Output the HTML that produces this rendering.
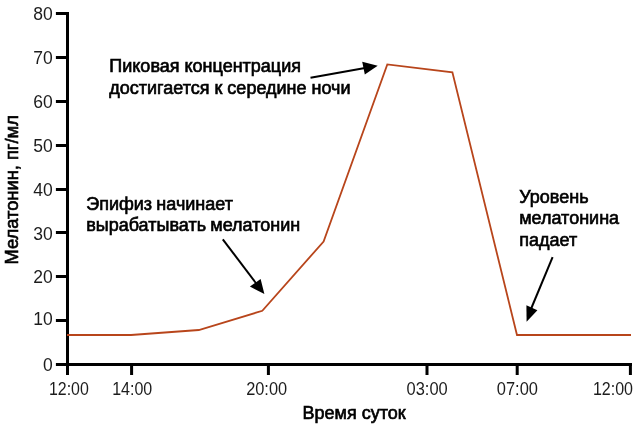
<!DOCTYPE html>
<html><head><meta charset="utf-8">
<style>
html,body{margin:0;padding:0;background:#fff;}
svg{display:block;}
text{font-family:"Liberation Sans",sans-serif;fill:#000;}
.ax{font-size:17.5px;fill:#1c1c1c;}
.an{font-size:18px;stroke:#000;stroke-width:0.65px;}
</style></head><body>
<svg width="638" height="434" viewBox="0 0 638 434">
<rect width="638" height="434" fill="#fff"/>
<g stroke="#000" stroke-width="3" fill="none">
<path d="M67.5 12 V375.1"/>
<path d="M55.9 364.5 H632"/>
<path d="M55.9 13.5H67M55.9 57.5H67M55.9 101.5H67M55.9 145.5H67M55.9 189.5H67M55.9 232.5H67M55.9 276.5H67M55.9 320.5H67"/>
<path d="M131.6 364V375.1M268.4 364V375.1M427 364V375.1M517.2 364V375.1M630.4 364V375.1"/>
</g>
<polyline fill="none" stroke="#b8451b" stroke-width="1.8" stroke-linejoin="miter" points="67,335 131,335 198.8,330 262.3,310.8 323.6,241.5 387.3,64.4 452.4,72.4 517,335 631,335"/>

<text class="ax" text-anchor="end" transform="translate(52.8,20.2)">80</text>
<text class="ax" text-anchor="end" transform="translate(52.8,63.9)">70</text>
<text class="ax" text-anchor="end" transform="translate(52.8,108.4)">60</text>
<text class="ax" text-anchor="end" transform="translate(52.8,152.3)">50</text>
<text class="ax" text-anchor="end" transform="translate(52.8,195.6)">40</text>
<text class="ax" text-anchor="end" transform="translate(52.8,239.9)">30</text>
<text class="ax" text-anchor="end" transform="translate(52.8,282.7)">20</text>
<text class="ax" text-anchor="end" transform="translate(52.8,325.4)">10</text>
<text class="ax" text-anchor="end" transform="translate(52.8,370.8)">0</text>
<text class="ax" text-anchor="middle" transform="translate(68.9,394.7) scale(0.91,1)">12:00</text>
<text class="ax" text-anchor="middle" transform="translate(132.2,394.7) scale(0.915,1)">14:00</text>
<text class="ax" text-anchor="middle" transform="translate(266.6,394.7) scale(0.935,1)">20:00</text>
<text class="ax" text-anchor="middle" transform="translate(427.1,394.7) scale(0.94,1)">03:00</text>
<text class="ax" text-anchor="middle" transform="translate(517.4,394.7) scale(0.94,1)">07:00</text>
<text class="ax" text-anchor="middle" transform="translate(613.0,394.7) scale(0.915,1)">12:00</text>
<text class="an" transform="translate(302.5,419.2)">Время суток</text>
<text class="an" style="font-size:18.3px" transform="translate(18.2,264.4) rotate(-90)">Мелатонин, пг/мл</text>
<text class="an" transform="translate(109.3,72.2)">Пиковая концентрация</text>
<text class="an" transform="translate(109.3,93.6)">достигается к середине ночи</text>
<text class="an" style="word-spacing:-0.7px" transform="translate(86.2,210.1)">Эпифиз начинает</text>
<text class="an" style="word-spacing:-0.7px" transform="translate(86.2,231.4)">вырабатывать мелатонин</text>
<text class="an" transform="translate(519.2,202.5)">Уровень</text>
<text class="an" transform="translate(519.2,224.3)">мелатонина</text>
<text class="an" transform="translate(519.2,246.2)">падает</text>
<g stroke="#000" stroke-width="2" fill="#000">
<path d="M222.8 239.3 L257 284.5"/>
<path d="M310.5 77.8 L365 68"/>
<path d="M552.6 257.1 L531 309"/>
</g>
<g fill="#000">
<polygon points="264.4,294.1 249.9,286.6 260.6,279.1"/>
<polygon points="377.7,65.8 362.2,61.8 364.8,74.6"/>
<polygon points="526.6,321.8 526.4,305.2 537.4,310.2"/>
</g>
</svg>
</body></html>
